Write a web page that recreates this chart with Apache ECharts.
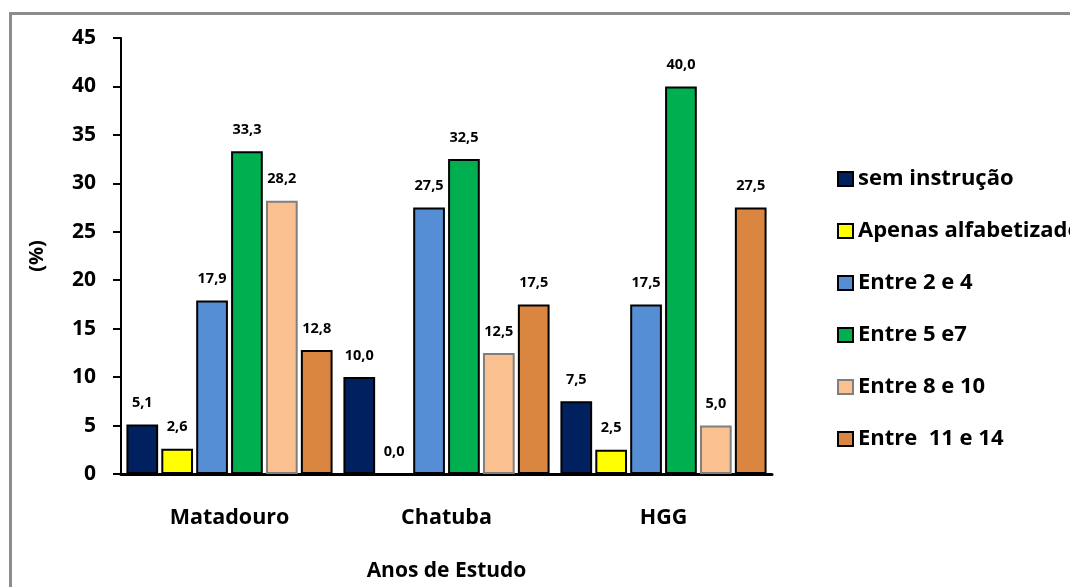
<!DOCTYPE html>
<html>
<head>
<meta charset="utf-8">
<script src="https://cdn.jsdelivr.net/npm/echarts@6/dist/echarts.min.js"></script>
<style>
  html, body { margin: 0; padding: 0; background: #fff; }
  #chart { width: 1070px; height: 587px; }
</style>
</head>
<body>
<div id="chart"></div>
<script>
// Schooling levels by location (percent)
const categories = ['Matadouro', 'Chatuba', 'HGG'];
const semInstrucao = [5.1, 10.0, 7.5];
const apenasAlfabetizado = [2.6, 0.0, 2.5];
const entre2e4 = [17.9, 27.5, 17.5];
const entre5e7 = [33.3, 32.5, 40.0];
const entre8e10 = [28.2, 12.5, 5.0];
const entre11e14 = [12.8, 17.5, 27.5];
const yTicks = [0, 5, 10, 15, 20, 25, 30, 35, 40, 45];

const FONT = '"Open Sans", "DejaVu Sans", sans-serif';

function fmt(v) {
  return v.toFixed(1).replace('.', ',');
}

function bar(name, data, color, border) {
  return {
    name: name,
    type: 'bar',
    data: data,
    barGap: '10%',
    barCategoryGap: '5%',
    itemStyle: { color: color, borderColor: border, borderWidth: 2 },
    label: {
      show: true,
      position: 'top',
      distance: 14,
      fontFamily: FONT,
      fontWeight: 'bold',
      fontSize: 14.5,
      color: '#000',
      formatter: p => fmt(p.value)
    }
  };
}

const chart = echarts.init(document.getElementById('chart'), null, { renderer: 'canvas' });
chart.setOption({
  animation: false,
  backgroundColor: '#fff',
  graphic: [{
    type: 'rect',
    shape: { x: 10.5, y: 13.5, width: 1200, height: 700 },
    style: { fill: 'none', stroke: '#8c8c8c', lineWidth: 3 },
    silent: true
  }],
  grid: { left: 121, top: 38, right: 298, bottom: 113, containLabel: false, outerBoundsMode: 'none' },
  legend: {
    orient: 'vertical',
    left: 832,
    top: 163,
    itemWidth: 15,
    itemHeight: 14,
    itemGap: 30,
    icon: 'rect',
    textStyle: { fontFamily: FONT, fontWeight: 'bold', fontSize: 22, color: '#000' },
    data: ['sem instrução', 'Apenas alfabetizado', 'Entre 2 e 4', 'Entre 5 e7', 'Entre 8 e 10', 'Entre  11 e 14']
  },
  xAxis: {
    type: 'category',
    data: categories,
    name: 'Anos de Estudo',
    nameLocation: 'middle',
    nameGap: 87,
    nameTextStyle: { fontFamily: FONT, fontWeight: 'bold', fontSize: 21, color: '#000' },
    axisLine: { lineStyle: { color: '#000', width: 3 } },
    axisTick: { show: false },
    axisLabel: { fontFamily: FONT, fontWeight: 'bold', fontSize: 21.5, color: '#000', margin: 33 }
  },
  yAxis: {
    type: 'value',
    min: yTicks[0],
    max: yTicks[yTicks.length - 1],
    interval: yTicks[1] - yTicks[0],
    name: '(%)',
    nameLocation: 'middle',
    nameGap: 74,
    nameRotate: 90,
    nameTextStyle: { fontFamily: FONT, fontWeight: 'bold', fontSize: 20, color: '#000' },
    splitLine: { show: false },
    axisLine: { show: true, lineStyle: { color: '#000', width: 2 } },
    axisTick: { show: true, inside: false, length: 8, lineStyle: { color: '#000', width: 2 } },
    axisLabel: { fontFamily: FONT, fontWeight: 'bold', fontSize: 21, color: '#000', margin: 25 }
  },
  series: [
    bar('sem instrução', semInstrucao, '#002060', '#000'),
    bar('Apenas alfabetizado', apenasAlfabetizado, '#FFFF00', '#000'),
    bar('Entre 2 e 4', entre2e4, '#558ED5', '#000'),
    bar('Entre 5 e7', entre5e7, '#00B050', '#000'),
    bar('Entre 8 e 10', entre8e10, '#FAC090', '#7f7f7f'),
    bar('Entre  11 e 14', entre11e14, '#DA8641', '#000')
  ]
});
</script>
</body>
</html>
